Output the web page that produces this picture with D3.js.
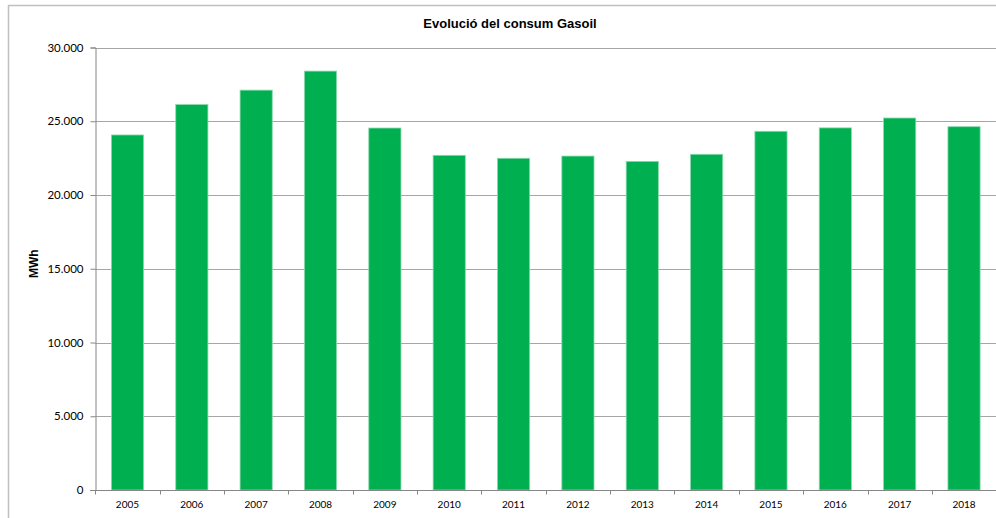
<!DOCTYPE html>
<html><head><meta charset="utf-8">
<script src="https://cdn.jsdelivr.net/npm/d3@7"></script>
<style>
body{margin:0;background:#fff;}
svg{display:block;}
</style></head>
<body>
<script>
const years = ["2005","2006","2007","2008","2009","2010","2011","2012","2013","2014","2015","2016","2017","2018"];
const consum = [24070, 26130, 27110, 28400, 24540, 22690, 22490, 22640, 22280, 22760, 24320, 24550, 25220, 24630];
const yTicks = [0, 5000, 10000, 15000, 20000, 25000, 30000];
const titleText = "Evolució del consum Gasoil";
const yTitle = "MWh";

(function(){
const W = 996, H = 518;
const svg = d3.select("body").append("svg").attr("width", W).attr("height", H);

// chart border
svg.append("path").attr("d", `M8.5,${H+2} L8.5,5.5 L${W+2},5.5`)
  .attr("fill","none").attr("stroke","#c0c0c0").attr("stroke-width",1.5);

const pLeft = 95.3, pRight = 996.2, pTop = 47.5, pBottom = 490;
const x = d3.scaleBand().domain(years).range([pLeft, pRight]).paddingInner(0.5).paddingOuter(0.25);
const y = d3.scaleLinear().domain([0, 30000]).range([pBottom, pTop]);

const fmt = v => v === 0 ? "0" : d3.format(",")(v).replace(/,/g, ".");

// gridlines
svg.append("g").selectAll("line").data(yTicks.filter(d => d > 0)).join("line")
  .attr("x1", pLeft).attr("x2", W)
  .attr("y1", d => Math.round(y(d)) + 0.5).attr("y2", d => Math.round(y(d)) + 0.5)
  .attr("stroke", "#a6a6a6").attr("stroke-width", 1);

// bars
svg.append("g").selectAll("rect").data(years).join("rect")
  .attr("x", d => x(d)).attr("width", x.bandwidth())
  .attr("y", (d,i) => y(consum[i])).attr("height", (d,i) => y(0) - y(consum[i]))
  .attr("fill", "#00b050").attr("stroke", "#8ad9ac").attr("stroke-width", 0.8);

// y axis
const yAxis = d3.axisLeft(y).tickValues(yTicks).tickFormat(fmt).tickSize(5).tickPadding(7);
const gy = svg.append("g").attr("transform", `translate(${Math.round(pLeft)+0.5},0)`).call(yAxis);
gy.select(".domain").attr("stroke", "#868686");
gy.selectAll(".tick line").attr("stroke", "#868686");
gy.selectAll(".tick text").attr("font-family", "Lato, 'Open Sans', sans-serif").attr("font-size", "11.5px").attr("fill", "#000");

// x axis
const gx = svg.append("g").attr("transform", `translate(0,${Math.round(pBottom)+0.5})`);
gx.append("line").attr("x1", Math.round(pLeft)-5).attr("x2", W).attr("stroke", "#868686");
const step = x.step();
const boundaries = d3.range(years.length + 1).map(i => pLeft + i * step);
gx.selectAll("line.tk").data(boundaries).join("line").attr("class","tk")
  .attr("x1", d => Math.round(d)+0.5).attr("x2", d => Math.round(d)+0.5)
  .attr("y1", 0).attr("y2", 4).attr("stroke", "#868686");
gx.selectAll("text").data(years).join("text")
  .attr("x", d => x(d) + x.bandwidth()/2).attr("y", 17)
  .attr("text-anchor", "middle")
  .attr("font-family", "Lato, 'Open Sans', sans-serif").attr("font-size", "10px").attr("fill", "#000")
  .text(d => d);

// title
svg.append("text").attr("x", 510).attr("y", 28).attr("text-anchor", "middle")
  .attr("font-family", "'Liberation Sans', Arial, sans-serif").attr("font-weight", "bold")
  .attr("font-size", "13px").attr("fill", "#000").text(titleText);

// y title
svg.append("text").attr("transform", `translate(37.5,${(pTop+pBottom)/2 - 5}) rotate(-90)`)
  .attr("text-anchor", "middle")
  .attr("font-family", "'Liberation Sans', Arial, sans-serif").attr("font-weight", "bold")
  .attr("font-size", "12px").attr("fill", "#000").text(yTitle);
})();
</script>
</body></html>
